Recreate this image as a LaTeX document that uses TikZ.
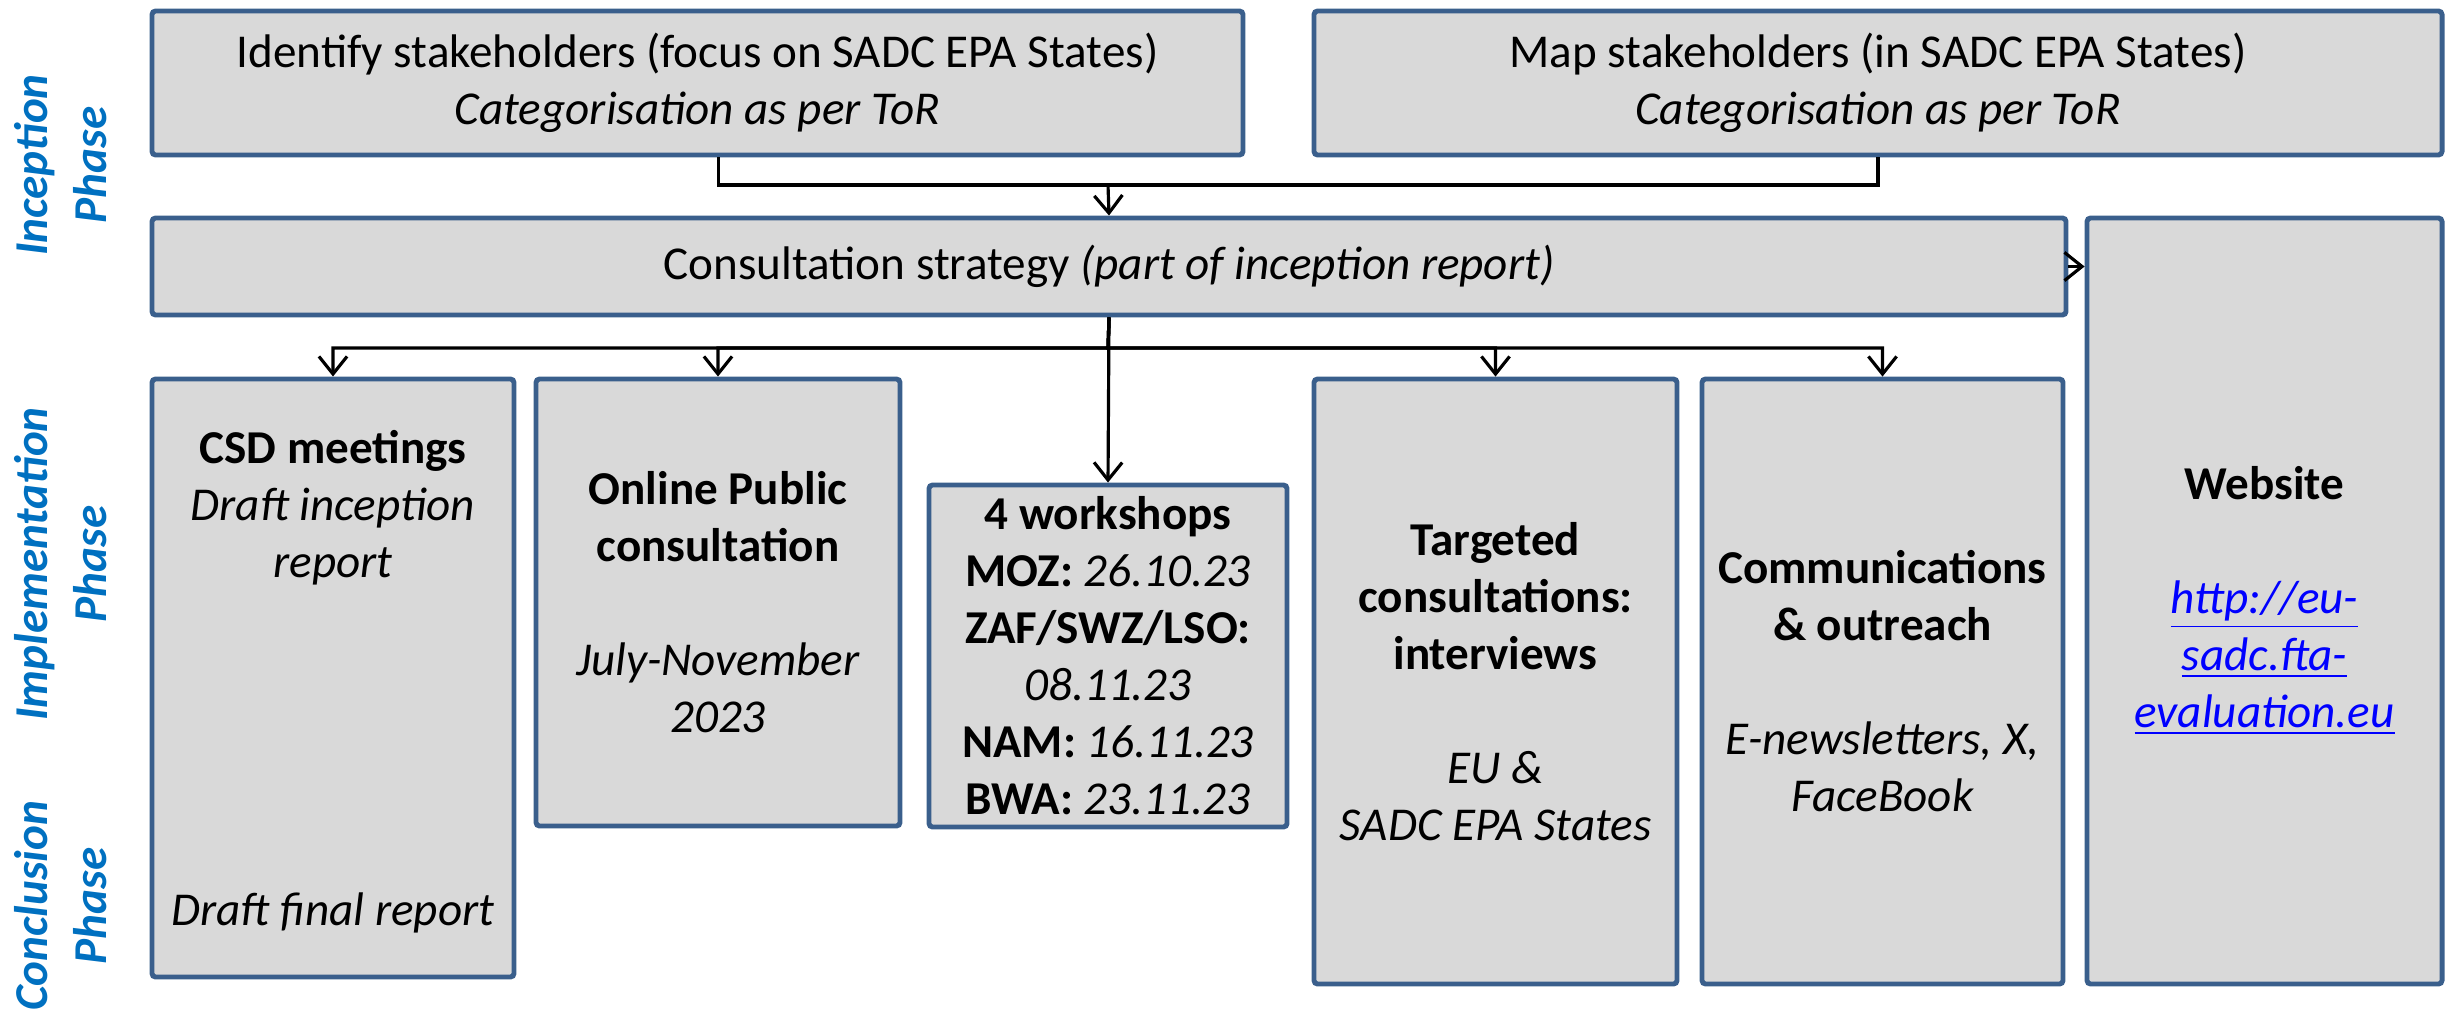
\documentclass[tikz,border=0pt]{standalone}
\usepackage{fontspec}
\setmainfont{Carlito}
\usepackage{tikz}
\usetikzlibrary{arrows.meta}
\definecolor{boxfill}{HTML}{D9D9D9}
\definecolor{boxline}{HTML}{3A5F8C}
\definecolor{phaseblue}{HTML}{0070C0}
\definecolor{linkblue}{HTML}{0000FF}
\newcommand{\lnk}[1]{\textcolor{linkblue}{\underline{#1}}}

\begin{document}
\begin{tikzpicture}[x=0.01cm,y=-0.01cm]
\tikzstyle{box}=[draw=boxline,fill=boxfill,line width=1.4pt,rounded corners=1pt,inner sep=0pt]
\tikzstyle{txt}=[align=center,inner sep=0pt,font=\fontsize{13.4pt}{16.2pt}\selectfont]
\tikzstyle{phase}=[txt,rotate=90,text=phaseblue,font=\fontsize{13.4pt}{16.8pt}\selectfont\bfseries\itshape]
\tikzstyle{arr}=[line width=0.9pt,-{Straight Barb[length=5pt,width=8pt]}]
\useasboundingbox (0,0) rectangle (2458,1009);
% boxes: name / left / top / width / height
\foreach \name/\x/\y/\w/\h in {
	ident/152/11/1091/144,
	map/1314/11/1128/144,
	cons/152/218/1914/97,
	web/2087/218/355/766,
	csd/152/379/362/598,
	online/536/379/364/447,
	ws/929/485/358/342,
	target/1314/379/363/605,
	comms/1702/379/361/605}
	\node[box,minimum width=\w*0.01cm,minimum height=\h*0.01cm] (\name) at (\x+\w/2,\y+\h/2) {};
% phases
\node[phase] (inc) at (61,165) {Inception\\Phase};
\node[phase] (impl) at (61,564) {Implementation\\Phase};
\node[phase] (concl) at (61,906) {Conclusion\\Phase};
% texts
\node[txt] (identtxt) at (ident) {Identify stakeholders (focus on SADC EPA States)\\\textit{Categorisation as per ToR}};
\node[txt] (maptxt) at (map) {Map stakeholders (in SADC EPA States)\\\textit{Categorisation as per ToR}};
\node[txt] (constxt) at (cons) {Consultation strategy \textit{(part of inception report)}};
\node[txt] (csdtxt) at (333,508) {\textbf{CSD meetings}\\\textit{Draft inception}\\\textit{report}};
\node[txt] (csdfinal) at (333,913) {\textit{Draft final report}};
\node[txt] (onlinetxt) at (online) {\textbf{Online Public}\\\textbf{consultation}\\[16.2pt]\textit{July-November}\\\textit{2023}};
\node[txt] (wstxt) at (ws) {\textbf{4 workshops}\\\textbf{MOZ:} \textit{26.10.23}\\\textbf{ZAF/SWZ/LSO:}\\\textit{08.11.23}\\\textbf{NAM:} \textit{16.11.23}\\\textbf{BWA:} \textit{23.11.23}};
\node[txt] (targettxt) at (target) {\textbf{Targeted}\\\textbf{consultations:}\\\textbf{interviews}\\[16.2pt]\textit{EU \&}\\\textit{SADC EPA States}};
\node[txt] (commstxt) at (comms) {\textbf{Communications}\\\textbf{\& outreach}\\[16.2pt]\textit{E-newsletters, X,}\\\textit{FaceBook}};
\node[txt] (webtxt) at (web) {\textbf{Website}\\[16.2pt]\textit{\lnk{http://eu-}}\\\textit{\lnk{sadc.fta-}}\\\textit{\lnk{evaluation.eu}}};
% connectors
\coordinate (merge) at (1108,185);
\coordinate (bus) at (1108,348);
\draw[line width=0.9pt] ([xshift=0.21cm]ident.south) |- (merge) -| (map.south);
\draw[arr] (merge) -- (cons.north);
\draw[arr] (cons.south) -- (ws.north);
\foreach \t in {csd,online,target,comms}
	\draw[arr] (cons.south) -- (bus) -| (\t.north);
\draw[arr] (cons.east) -- (web.west |- cons.east);
\end{tikzpicture}
\end{document}
